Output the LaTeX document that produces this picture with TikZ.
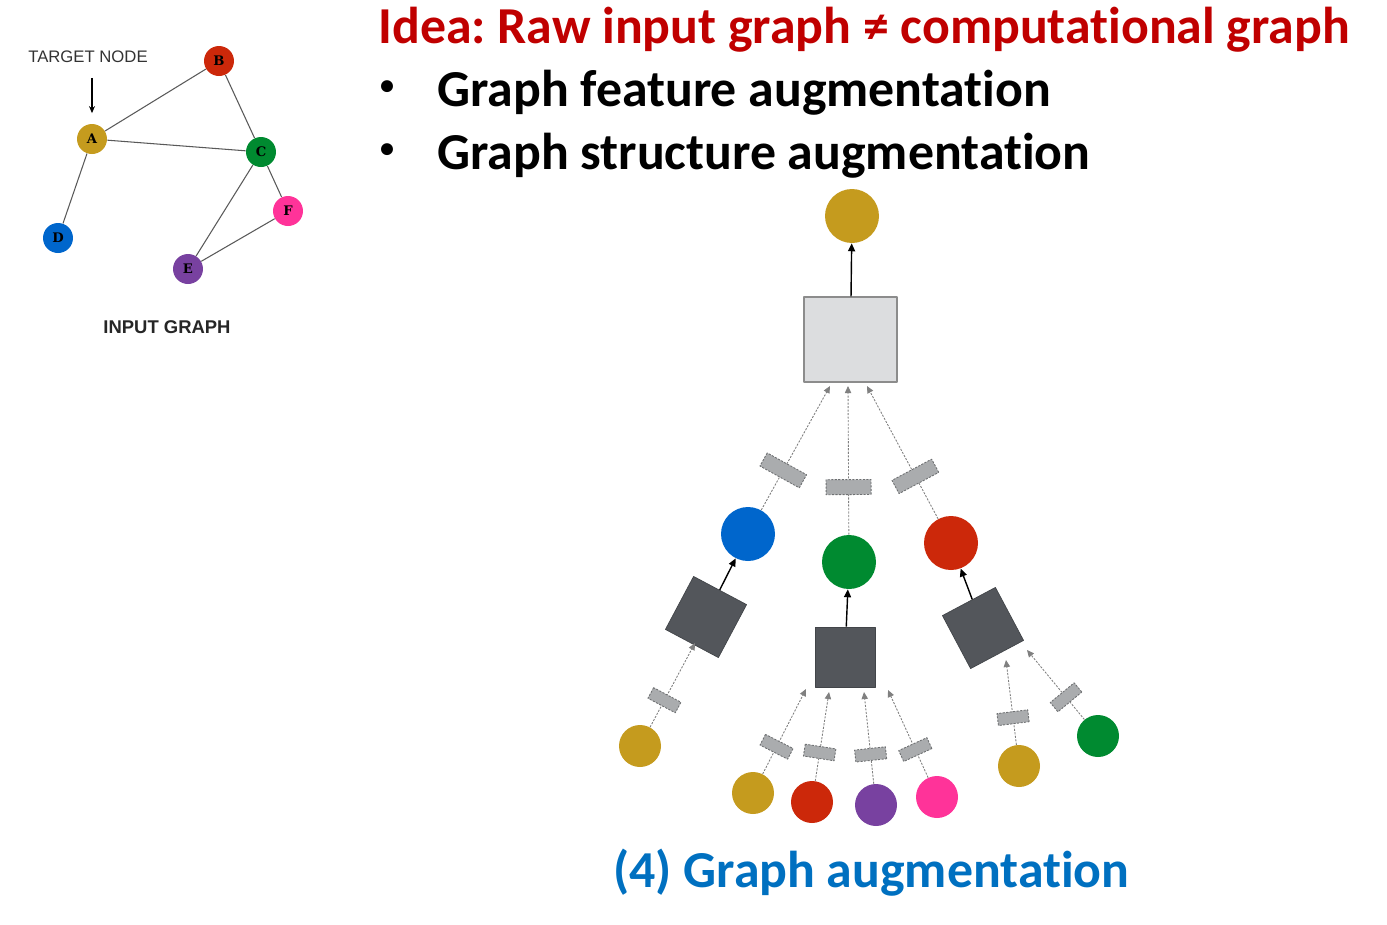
\documentclass[tikz,border=0pt]{standalone}
\usepackage{fontspec}
\setmainfont{Carlito}[RawFeature={-liga;-clig;-calt}]
\newfontfamily\arialfont{Liberation Sans}
\newfontfamily\letterfont{DejaVu Serif}
\usetikzlibrary{arrows.meta,positioning}
\definecolor{cgold}{RGB}{197,155,30}
\definecolor{cblue}{RGB}{0,102,204}
\definecolor{cgreen}{RGB}{0,138,48}
\definecolor{cred}{RGB}{204,40,10}
\definecolor{cpurple}{RGB}{120,65,160}
\definecolor{cpink}{RGB}{255,51,153}
\definecolor{darkbox}{RGB}{83,86,91}
\definecolor{lightbox}{RGB}{220,221,223}
\definecolor{tagfill}{RGB}{170,172,174}
\definecolor{tagline}{RGB}{110,112,114}
\definecolor{titlered}{RGB}{192,0,0}
\definecolor{captionblue}{RGB}{0,112,192}
\frenchspacing
\begin{document}
\begin{tikzpicture}[x=.02cm, y=-.02cm, line join=round, >={Stealth[length=4pt,width=3.4pt]},
  vtx/.style={circle, fill=#1, inner sep=0pt, minimum size=.6cm, font=\letterfont\bfseries\fontsize{7.5}{8}\selectfont},
  big/.style={circle, fill=#1, inner sep=0pt, minimum size=1.08cm},
  leaf/.style={circle, fill=#1, inner sep=0pt, minimum size=.84cm},
  agg/.style={draw=darkbox!80!black, fill=darkbox, inner sep=0pt, minimum size=1.2cm},
  msg/.style={draw=tagline, fill=tagfill, sloped, inner sep=0pt, pos=.32, minimum width=.3cm, minimum height=.9cm},
  smallmsg/.style={msg, minimum width=.24cm, minimum height=.62cm},
  inedge/.style={->, >={Triangle[length=4pt,width=3.6pt]}, gray, line width=.5pt, dash pattern=on 1.2pt off .8pt},
  outedge/.style={->, >={Triangle[length=4.5pt,width=4pt]}, black, line width=.8pt},
  link/.style={draw=black!65, line width=.6pt},
  headline/.style={anchor=base west, inner sep=0pt, font=\bfseries\fontsize{29.5}{34}\selectfont}]
\useasboundingbox (0,0) rectangle (1387,924);

\node[font=\arialfont\fontsize{9.5}{11}\selectfont, text=black!80] (target) at (88,57) {TARGET NODE};
\node[vtx=cgold] (A) at (92,139) {A};
\node[vtx=cred] (B) at (219,61) {B};
\node[vtx=cgreen] (C) at (261,152) {C};
\node[vtx=cblue] (D) at (58,238) {D};
\node[vtx=cpurple] (E) at (188,269) {E};
\node[vtx=cpink] (F) at (288,211) {F};
\foreach \u/\v in {A/B,A/C,A/D,B/C,C/E,C/F,E/F}
  \draw[link] (\u) -- (\v);
\draw[->, line width=.6pt, shorten <=5pt, shorten >=6pt] (target.south -| A) -- (A);
\node[font=\arialfont\bfseries\fontsize{10.5}{12}\selectfont, text=black!85] (inputlbl) at (167,327) {INPUT GRAPH};

\node[headline, text=titlered] (title) at (378,43) {Idea: Raw input graph ≠ computational graph};
\node[inner sep=0pt, font=\bfseries\fontsize{16}{18}\selectfont] (dot1) at (387,88) {•};
\node[headline] (item1) at (437,106) {Graph feature augmentation};
\node[inner sep=0pt, font=\bfseries\fontsize{16}{18}\selectfont] (dot2) at (387,151) {•};
\node[headline] (item2) at (437,169) {Graph structure augmentation};

\node[big=cgold] (root) at (852,216) {};
\node[draw=black!45, fill=lightbox, line width=.8pt, minimum width=1.86cm, minimum height=1.7cm] (gbox) at (850.5,339.5) {};
\draw[outedge] (gbox) -- (root);

\node[big=cblue] (hblue) at (748,534) {};
\node[big=cgreen] (hgreen) at (849,562) {};
\node[big=cred] (hred) at (951,543) {};
\coordinate (gin1) at (830,386);
\coordinate (gin2) at (848,386);
\coordinate (gin3) at (867,386);
\foreach \u/\v in {hblue/gin1,hgreen/gin2,hred/gin3}
  \draw[inedge] (\u) -- node[msg]{} (\v);

\node[agg, rotate=-28] (lbox) at (706,617) {};
\node[agg] (mbox) at (845,657) {};
\node[agg, rotate=28] (rbox) at (983,628) {};
\draw[outedge] (lbox) -- (hblue);
\draw[outedge] (mbox) -- (hgreen);
\draw[outedge] (rbox) -- (hred);

\node[leaf=cgold] (lgold) at (640,746) {};
\node[leaf=cgold] (mgold) at (753,793) {};
\node[leaf=cred] (mred) at (812,802) {};
\node[leaf=cpurple] (mpurple) at (876,805) {};
\node[leaf=cpink] (mpink) at (937,797) {};
\node[leaf=cgold] (rgold) at (1019,766) {};
\node[leaf=cgreen] (rgreen) at (1098,736) {};
\coordinate (lin1) at (695,643);
\coordinate (min1) at (806,689);
\coordinate (min2) at (829,692);
\coordinate (min3) at (864,692);
\coordinate (min4) at (888,690);
\coordinate (rin1) at (1006,660);
\coordinate (rin2) at (1027,650);
\foreach \u/\v in {lgold/lin1,mgold/min1,mred/min2,mpurple/min3,mpink/min4,rgold/rin1,rgreen/rin2}
  \draw[inedge] (\u) -- node[smallmsg]{} (\v);

\node[headline, text=captionblue] (caption) at (613,887) {(4) Graph augmentation};
\end{tikzpicture}
\end{document}
